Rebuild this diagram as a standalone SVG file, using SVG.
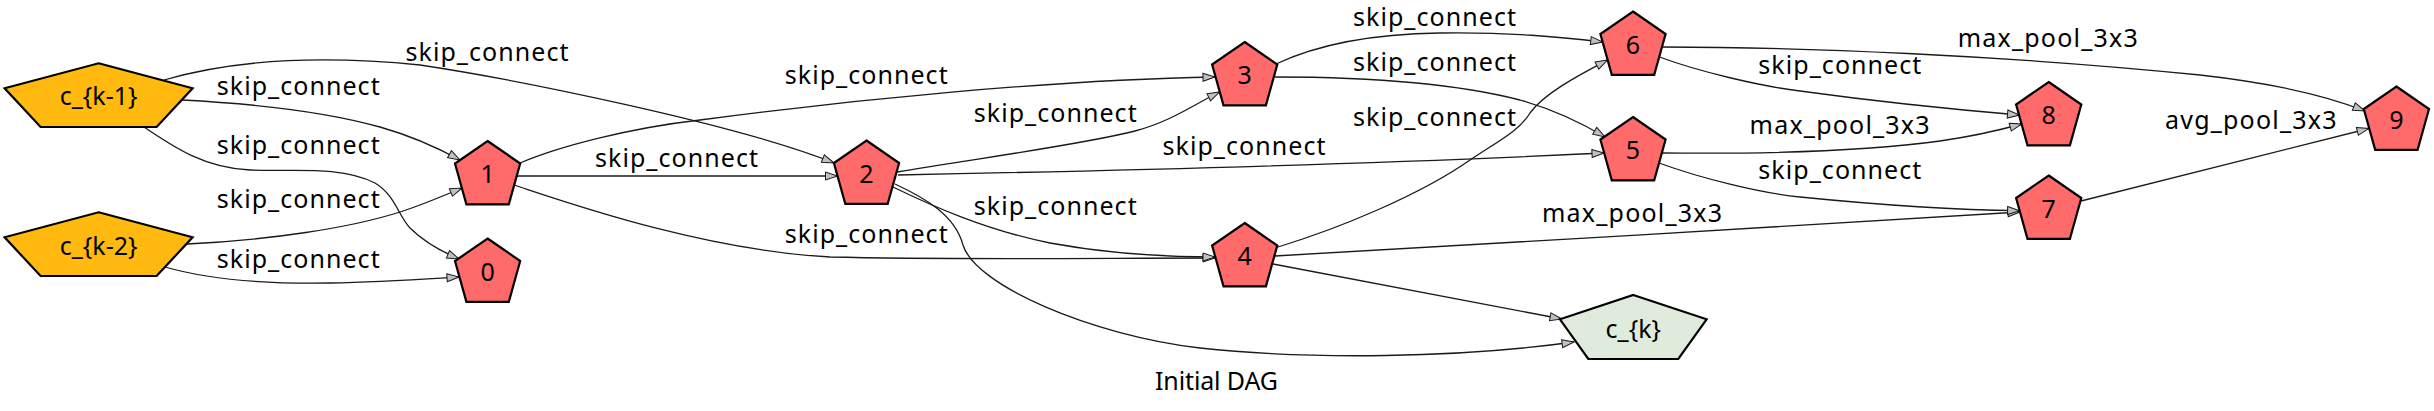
<svg xmlns="http://www.w3.org/2000/svg" xmlns:xlink="http://www.w3.org/1999/xlink" width="2434" height="411" viewBox="0 0 2434 411">
<style>
  .lbl { font-family: "Noto Sans", "Liberation Sans", sans-serif; font-size: 25px; fill: #000; }
  .nl { font-family: "Noto Sans", "Liberation Sans", sans-serif; font-size: 25px; fill: #000; text-anchor: middle; }
  .in { fill: #FFB90F; stroke: #000; stroke-width: 2.2; }
  .op { fill: #FF6A6A; stroke: #000; stroke-width: 2.2; }
  .out { fill: #E0ECDB; stroke: #000; stroke-width: 2.2; }
  .e { fill: none; stroke: #1a1a1a; stroke-width: 1.3; marker-end: url(#ah); }
</style>
<defs>
  <marker id="ah" markerUnits="userSpaceOnUse" markerWidth="16" markerHeight="12" refX="12" refY="4.5" orient="auto" overflow="visible">
    <path d="M0,0.5 L12,4.5 L0,8.5 z" fill="#c0c0c0" stroke="#1a1a1a" stroke-width="1"/>
  </marker>
  <polygon id="pent" points="0,0 32.6,22.5 21.2,63.3 -21.2,63.3 -32.6,22.5"/>
  <polygon id="pentIn" points="0,0 94,25 58,63.7 -58,63.7 -94,25"/>
  <polygon id="pentOut" points="0,0 73.3,24.3 45,64 -45,64 -73.3,24.3"/>
</defs>
<rect x="0" y="0" width="2434" height="411" fill="#fff"/>

<g id="edges">
  <path class="e" d="M164,80 C240,58 330,56 420,65 C520,80 740,125 834,163"/>
  <path class="e" d="M182,100 C260,104 330,113 380,127 C415,137 440,149 460,160"/>
  <path class="e" d="M144,127 C175,148 205,168 250,170 C290,172 340,165 375,183 C395,195 398,215 410,228 C425,243 445,253 459,259"/>
  <path class="e" d="M187,244 C270,240 350,228 400,212 C425,204 445,195 462,188"/>
  <path class="e" d="M165,267 C210,280 270,284 330,283 C380,282 425,279 459,277"/>
  <path class="e" d="M520,163 C560,146 630,128 700,120 C850,100 1050,80 1215,77"/>
  <path class="e" d="M517,176 L837.5,176"/>
  <path class="e" d="M514,185 C560,200 700,250 830,257 C950,260 1100,258 1215,258"/>
  <path class="e" d="M897,172 C980,158 1080,145 1135,131 C1170,122 1195,104 1219.5,92"/>
  <path class="e" d="M898,175 C1100,171 1400,163 1604,153"/>
  <path class="e" d="M893,187 C930,205 985,230 1050,243 C1110,254 1165,257 1215,257"/>
  <path class="e" d="M895,184 C925,198 955,215 963,245 C975,285 1090,335 1200,348 C1310,360 1460,358 1574,342"/>
  <path class="e" d="M1276,64 C1310,48 1360,34 1440,33 C1510,32 1560,37 1602.7,42"/>
  <path class="e" d="M1275,77 C1360,77 1450,82 1520,100 C1555,110 1585,125 1605,137"/>
  <path class="e" d="M1278,247 C1340,228 1420,195 1470,160 C1500,140 1520,130 1530,113 C1545,92 1585,72 1607.5,60"/>
  <path class="e" d="M1275,256 C1500,244 1800,225 2020,212"/>
  <path class="e" d="M1273,264 L1562,319"/>
  <path class="e" d="M1662,47 C1800,47 2000,55 2200,75 C2280,84 2330,97 2365,111"/>
  <path class="e" d="M1659.5,57 C1700,72 1760,86 1800,91 C1880,102 1960,110 2019.5,115"/>
  <path class="e" d="M1662,153 C1760,154 1860,152 1940,141 C1975,136 2000,130 2021.8,124"/>
  <path class="e" d="M1659,163 C1700,178 1760,193 1800,197 C1880,205 1960,210 2019.6,210.7"/>
  <path class="e" d="M2081,201 L2369,128.5"/>
</g>

<g id="edge-labels">
  <text class="lbl" x="405.5" y="60.5" textLength="163">skip_connect</text>
  <text class="lbl" x="216.7" y="95" textLength="163">skip_connect</text>
  <text class="lbl" x="216.7" y="154.3" textLength="163">skip_connect</text>
  <text class="lbl" x="216.7" y="208.3" textLength="163">skip_connect</text>
  <text class="lbl" x="216.7" y="268.3" textLength="163">skip_connect</text>
  <text class="lbl" x="784.7" y="84" textLength="163">skip_connect</text>
  <text class="lbl" x="595" y="166.7" textLength="163">skip_connect</text>
  <text class="lbl" x="784.7" y="242.7" textLength="163">skip_connect</text>
  <text class="lbl" x="973.7" y="122.3" textLength="163">skip_connect</text>
  <text class="lbl" x="973.7" y="215" textLength="163">skip_connect</text>
  <text class="lbl" x="1162.5" y="155" textLength="163">skip_connect</text>
  <text class="lbl" x="1353" y="26" textLength="163">skip_connect</text>
  <text class="lbl" x="1353" y="71" textLength="163">skip_connect</text>
  <text class="lbl" x="1353" y="126" textLength="163">skip_connect</text>
  <text class="lbl" x="1542" y="221.7" textLength="180">max_pool_3x3</text>
  <text class="lbl" x="1758.3" y="74" textLength="163">skip_connect</text>
  <text class="lbl" x="1749.6" y="134.3" textLength="180">max_pool_3x3</text>
  <text class="lbl" x="1758.3" y="179.3" textLength="163">skip_connect</text>
  <text class="lbl" x="1957.7" y="46.7" textLength="180">max_pool_3x3</text>
  <text class="lbl" x="2165" y="129.3" textLength="171.5">avg_pool_3x3</text>
</g>

<g id="node-ck1"><use xlink:href="#pentIn" x="98.6" y="63.3" class="in"/><text class="nl" x="98.6" y="105">c_{k-1}</text></g>
<g id="node-ck2"><use xlink:href="#pentIn" x="98.6" y="212.3" class="in"/><text class="nl" x="98.6" y="254.5">c_{k-2}</text></g>
<g id="node-0"><use xlink:href="#pent" x="487.6" y="238.5" class="op"/><text class="nl" x="487.6" y="280.5">0</text></g>
<g id="node-1"><use xlink:href="#pent" x="487.6" y="141" class="op"/><text class="nl" x="487.6" y="183.3">1</text></g>
<g id="node-2"><use xlink:href="#pent" x="866.5" y="140.5" class="op"/><text class="nl" x="866.5" y="182.8">2</text></g>
<g id="node-3"><use xlink:href="#pent" x="1244.7" y="42" class="op"/><text class="nl" x="1244.7" y="84.3">3</text></g>
<g id="node-4"><use xlink:href="#pent" x="1244.7" y="223" class="op"/><text class="nl" x="1244.7" y="265.3">4</text></g>
<g id="node-5"><use xlink:href="#pent" x="1633" y="117" class="op"/><text class="nl" x="1633" y="159.3">5</text></g>
<g id="node-6"><use xlink:href="#pent" x="1633" y="11.5" class="op"/><text class="nl" x="1633" y="53.8">6</text></g>
<g id="node-7"><use xlink:href="#pent" x="2048.7" y="175.5" class="op"/><text class="nl" x="2048.7" y="217.8">7</text></g>
<g id="node-8"><use xlink:href="#pent" x="2048.7" y="82" class="op"/><text class="nl" x="2048.7" y="124.3">8</text></g>
<g id="node-9"><use xlink:href="#pent" x="2396.4" y="86.5" class="op"/><text class="nl" x="2396.4" y="128.8">9</text></g>
<g id="node-ck"><use xlink:href="#pentOut" x="1633.3" y="295" class="out"/><text class="nl" x="1633.3" y="338.3">c_{k}</text></g>

<g id="title"><text class="lbl" x="1155" y="390" textLength="123">Initial DAG</text></g>
</svg>
